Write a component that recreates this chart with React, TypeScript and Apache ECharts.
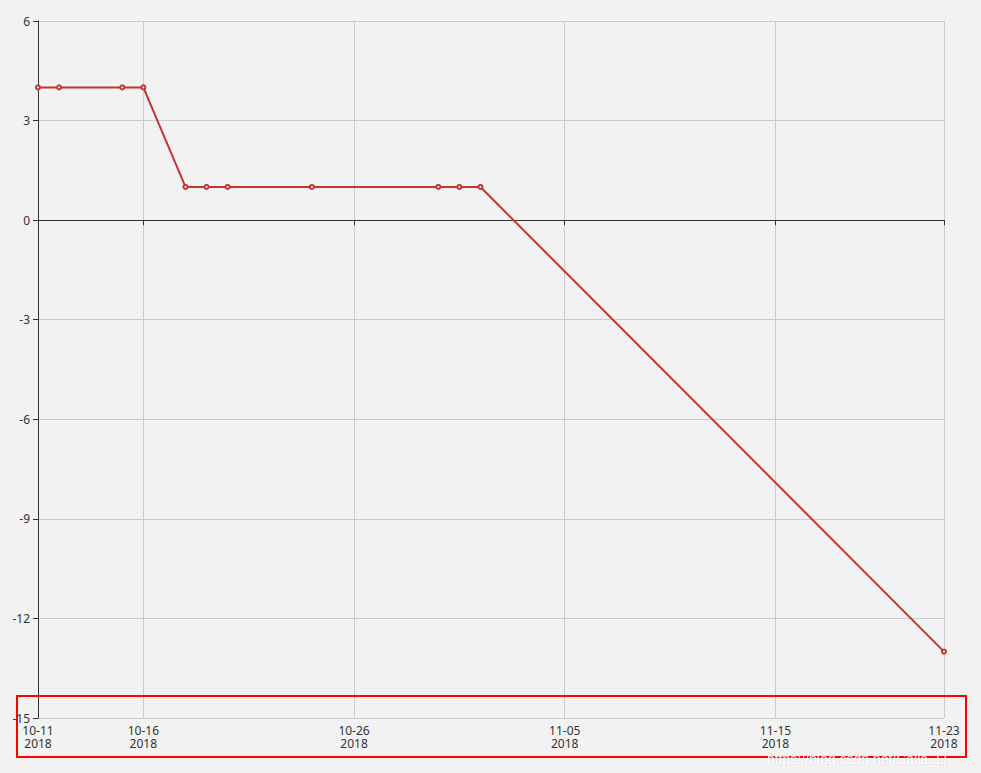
import React, { useEffect, useRef } from "react";
import * as echarts from "echarts";

const dates = [
  "2018-10-11", "2018-10-12", "2018-10-15", "2018-10-16", "2018-10-18", "2018-10-19",
  "2018-10-20", "2018-10-24", "2018-10-30", "2018-10-31", "2018-11-01", "2018-11-23",
];
const values = [4, 4, 4, 4, 1, 1, 1, 1, 1, 1, 1, -13];
const labelDates = ["2018-10-11", "2018-10-16", "2018-10-26", "2018-11-05", "2018-11-15", "2018-11-23"];
const tickDates = ["2018-10-16", "2018-10-26", "2018-11-05", "2018-11-15", "2018-11-23"];
const yMin = -15;
const yMax = 6;
const yInterval = 3;

const toTime = (s: string) => {
  const [y, m, d] = s.split("-").map(Number);
  return new Date(y, m - 1, d).getTime();
};
const pad = (n: number) => (n < 10 ? "0" + n : "" + n);

export default function App() {
  const ref = useRef<HTMLDivElement>(null);
  useEffect(() => {
    if (!ref.current) return;
    const chart = echarts.init(ref.current, undefined, { renderer: "svg" });
    const xMin = toTime(labelDates[0]);
    const xMax = toTime(labelDates[labelDates.length - 1]);
    const fmt = (v: number) => {
      const d = new Date(v);
      return pad(d.getMonth() + 1) + "-" + pad(d.getDate()) + "\n" + d.getFullYear();
    };
    const font = "'Noto Sans', 'Open Sans', sans-serif";
    chart.setOption({
      animation: false,
      backgroundColor: "#f2f2f2",
      grid: { left: 38, right: 37, top: 21, bottom: 55, containLabel: false },
      xAxis: [
        {
          type: "value",
          min: xMin,
          max: xMax,
          position: "bottom",
          axisLine: { show: false, onZero: false },
          axisTick: { show: false, customValues: tickDates.map(toTime) },
          splitLine: { show: true, lineStyle: { color: "#cccccc", width: 1 } },
          axisLabel: {
            customValues: labelDates.map(toTime),
            formatter: fmt,
            color: "#333",
            fontSize: 12,
            fontFamily: font,
            lineHeight: 13,
            margin: 6,
            showMinLabel: true,
            showMaxLabel: true,
            hideOverlap: false,
          },
        },
        {
          type: "value",
          min: xMin,
          max: xMax,
          position: "bottom",
          axisLine: { show: true, onZero: true, lineStyle: { color: "#333", width: 1 } },
          axisTick: { show: true, length: 5, customValues: tickDates.map(toTime), lineStyle: { color: "#333" } },
          splitLine: { show: false },
          axisLabel: { show: false },
        },
      ],
      yAxis: {
        type: "value",
        min: yMin,
        max: yMax,
        interval: yInterval,
        axisLine: { show: true, lineStyle: { color: "#333", width: 1 } },
        axisTick: { show: true, length: 5, lineStyle: { color: "#333" } },
        splitLine: { show: true, lineStyle: { color: "#cccccc", width: 1 } },
        axisLabel: { color: "#333", fontSize: 12, fontFamily: font, margin: 8 },
      },
      series: [
        {
          type: "line",
          xAxisIndex: 0,
          data: dates.map((d, i) => [toTime(d), values[i]]),
          symbol: "emptyCircle",
          symbolSize: 4,
          showAllSymbol: true,
          lineStyle: { color: "#c23531", width: 2 },
          itemStyle: { color: "#c23531", borderColor: "#d66", borderWidth: 1 },
        },
      ],
      graphic: [
        {
          type: "rect",
          shape: { x: 17, y: 696, width: 949, height: 61 },
          style: { fill: "none", stroke: "#ff0000", lineWidth: 2 },
          z: 100,
        },
        {
          type: "text",
          x: 767,
          y: 752,
          style: {
            text: "https://blog.csdn.net/Calla_Lj",
            fill: "rgba(255,255,255,0.9)",
            font: "14px 'Liberation Sans', Arial, sans-serif",
            textShadowColor: "rgba(0,0,0,0.15)",
            textShadowBlur: 2,
          },
          z: 100,
        },
      ],
    });
    return () => chart.dispose();
  }, []);
  return (
    <div
      ref={ref}
      style={{ position: "absolute", left: 0, top: 0, width: 981, height: 773 }}
    />
  );
}
